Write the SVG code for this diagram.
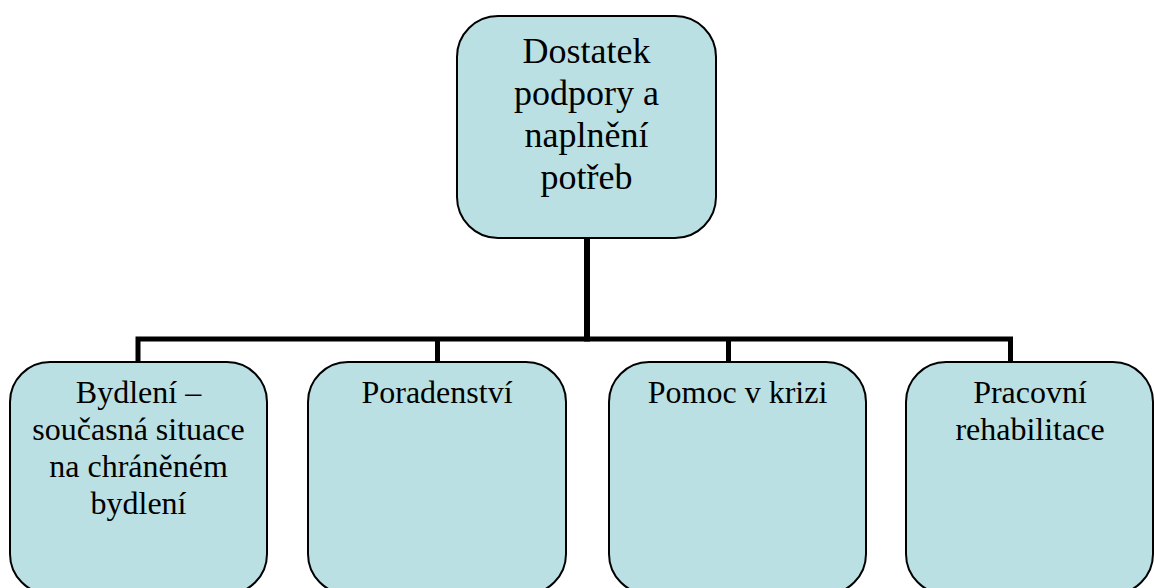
<svg xmlns="http://www.w3.org/2000/svg" width="1154" height="588" viewBox="0 0 1154 588">
  <style>
    .box { fill: #bae0e3; stroke: #000; stroke-width: 2; }
    .wire { fill: none; stroke: #000; stroke-width: 5; stroke-linecap: butt; stroke-linejoin: miter; }
    .t-top { font-family: "Liberation Serif", "Times New Roman", serif; font-size: 36px; fill: #000; text-anchor: middle; }
    .t { font-family: "Liberation Serif", "Times New Roman", serif; font-size: 32px; fill: #000; text-anchor: middle; }
  </style>
  <rect width="1154" height="588" fill="#fff"/>

  <!-- connectors: trunk, bus bar and drops -->
  <g id="connectors">
    <line class="wire" x1="587" y1="238" x2="587" y2="341.5" style="stroke-width:6"/>
    <polyline class="wire" points="138,362 138,339 1010.5,339 1010.5,362"/>
    <line class="wire" x1="437.5" y1="339" x2="437.5" y2="362"/>
    <line class="wire" x1="728.5" y1="339" x2="728.5" y2="362"/>
  </g>

  <g id="root">
    <rect class="box" x="457" y="16" width="259" height="222" rx="41" ry="41"/>
    <text class="t-top" x="586.5" y="63">Dostatek</text>
    <text class="t-top" x="586.5" y="105">podpory a</text>
    <text class="t-top" x="586.5" y="147">naplnění</text>
    <text class="t-top" x="586.5" y="189">potřeb</text>
  </g>

  <g id="bydleni">
    <rect class="box" x="10" y="362" width="257" height="232" rx="40" ry="40"/>
    <text class="t" x="138.5" y="403">Bydlení –</text>
    <text class="t" x="138.5" y="440">současná situace</text>
    <text class="t" x="138.5" y="477">na chráněném</text>
    <text class="t" x="138.5" y="514">bydlení</text>
  </g>

  <g id="poradenstvi">
    <rect class="box" x="308" y="362" width="258" height="232" rx="40" ry="40"/>
    <text class="t" x="437" y="403">Poradenství</text>
  </g>

  <g id="pomoc">
    <rect class="box" x="609" y="362" width="257" height="232" rx="40" ry="40"/>
    <text class="t" x="737.5" y="403">Pomoc v krizi</text>
  </g>

  <g id="pracovni">
    <rect class="box" x="906" y="362" width="247" height="232" rx="40" ry="40"/>
    <text class="t" x="1030" y="403">Pracovní</text>
    <text class="t" x="1030" y="440">rehabilitace</text>
  </g>
</svg>
